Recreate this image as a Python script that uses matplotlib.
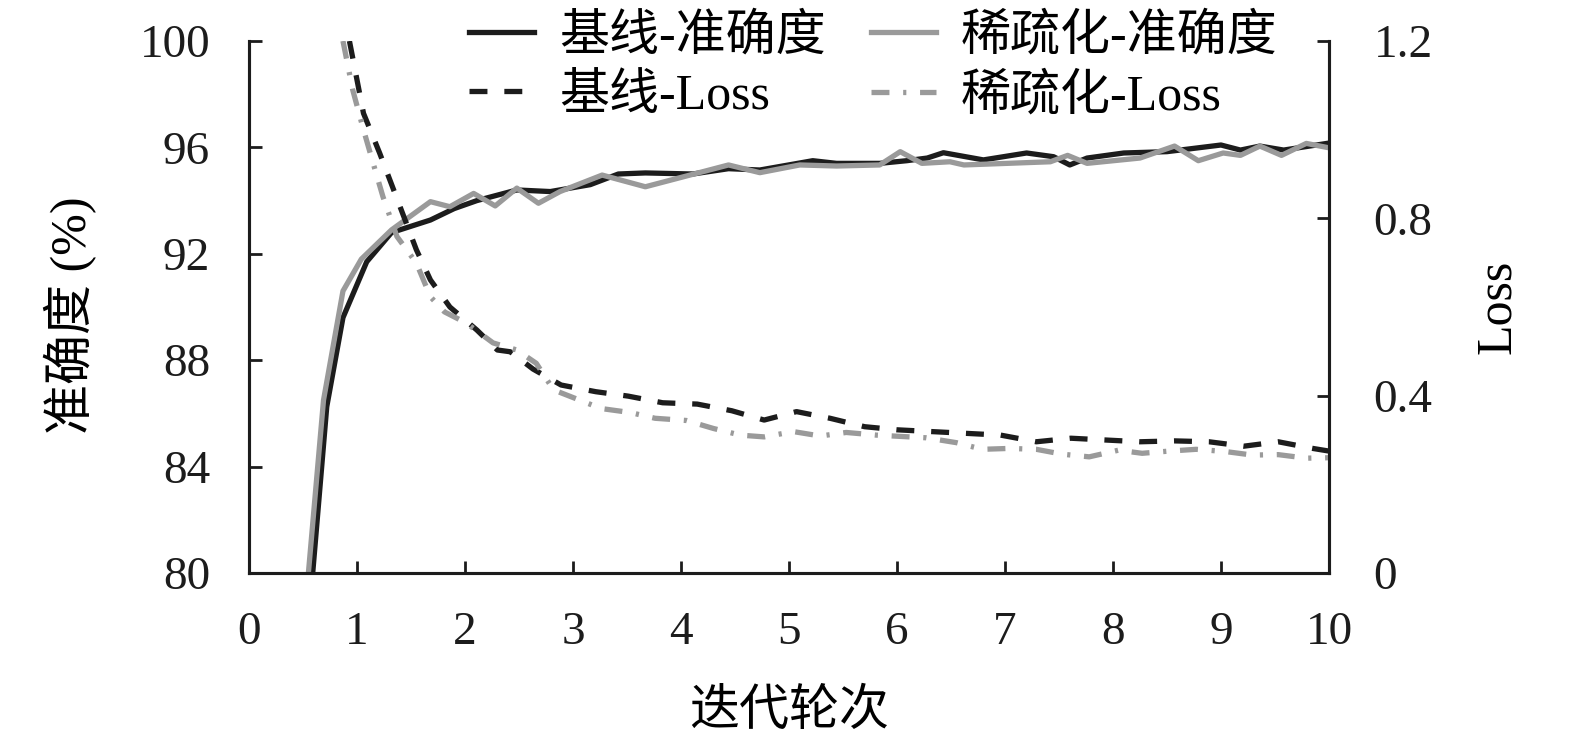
import numpy as np
import matplotlib
matplotlib.use("Agg")
import matplotlib.pyplot as plt

plt.rcParams['font.family'] = ['Liberation Serif', 'Noto Sans CJK SC']
plt.rcParams['axes.unicode_minus'] = False

# 基线-准确度
base_acc_x = [0.59, 0.72, 0.87, 1.09, 1.32, 1.68, 1.90, 2.11, 2.48, 2.79, 3.16, 3.42, 3.67, 4.11,
              4.44, 4.73, 5.22, 5.44, 5.84, 6.09, 6.28, 6.43, 6.80, 7.20, 7.45, 7.60, 7.76, 8.10,
              8.50, 9.00, 9.18, 9.36, 9.58, 9.98]
base_acc = [80.0, 86.25, 89.6, 91.7, 92.8, 93.27, 93.7, 94.0, 94.4, 94.34, 94.6, 95.0, 95.04, 95.0,
            95.2, 95.15, 95.5, 95.4, 95.4, 95.5, 95.6, 95.8, 95.53, 95.79, 95.65, 95.34, 95.6, 95.79,
            95.84, 96.09, 95.9, 96.05, 95.9, 96.15]

# 稀疏化-准确度
sp_acc_x = [0.55, 0.69, 0.87, 1.04, 1.32, 1.68, 1.86, 2.08, 2.28, 2.48, 2.68, 2.88, 3.27, 3.67,
            4.44, 4.73, 5.10, 5.44, 5.84, 6.03, 6.23, 6.49, 6.62, 7.02, 7.42, 7.58, 7.76, 8.25,
            8.57, 8.79, 9.02, 9.18, 9.36, 9.56, 9.79, 9.98]
sp_acc = [80.0, 86.5, 90.6, 91.8, 92.9, 93.96, 93.77, 94.27, 93.8, 94.47, 93.9, 94.34, 94.96, 94.52,
          95.34, 95.05, 95.34, 95.3, 95.34, 95.84, 95.4, 95.46, 95.34, 95.4, 95.46, 95.7, 95.4, 95.6,
          96.05, 95.5, 95.79, 95.7, 96.05, 95.7, 96.15, 96.0]

# 基线-Loss
base_loss_x = [0.93, 1.06, 1.21, 1.41, 1.55, 1.68, 1.86, 2.11, 2.30, 2.42, 2.63, 2.89, 3.21, 3.51,
               3.83, 4.15, 4.47, 4.77, 5.07, 5.38, 5.70, 6.00, 6.32, 6.64, 6.96, 7.29, 7.61, 7.93,
               8.25, 8.57, 8.89, 9.21, 9.53, 9.85, 10.0]
base_loss = [1.2, 1.037, 0.947, 0.819, 0.729, 0.661, 0.60, 0.548, 0.503, 0.499, 0.46, 0.424, 0.409, 0.399,
             0.384, 0.381, 0.366, 0.345, 0.364, 0.349, 0.330, 0.323, 0.319, 0.315, 0.311, 0.296, 0.304, 0.300,
             0.296, 0.298, 0.296, 0.286, 0.296, 0.281, 0.275]

# 稀疏化-Loss
sp_loss_x = [0.87, 0.96, 1.06, 1.15, 1.24, 1.37, 1.55, 1.68, 1.81, 2.01, 2.26, 2.48, 2.66, 2.82,
             3.26, 3.53, 3.76, 4.05, 4.30, 4.55, 4.77, 5.04, 5.29, 5.53, 5.81, 6.27, 6.55, 6.79,
             7.04, 7.29, 7.53, 7.78, 8.05, 8.27, 8.52, 8.77, 9.04, 9.29, 9.53, 9.79, 10.0]
sp_loss = [1.2, 1.09, 1.0, 0.924, 0.849, 0.759, 0.699, 0.623, 0.589, 0.564, 0.519, 0.503, 0.473, 0.413,
           0.371, 0.362, 0.349, 0.344, 0.326, 0.311, 0.307, 0.319, 0.309, 0.317, 0.311, 0.305, 0.294, 0.279,
           0.281, 0.279, 0.268, 0.262, 0.277, 0.270, 0.275, 0.279, 0.274, 0.266, 0.267, 0.259, 0.26]

x_ticks = list(range(0, 11))
acc_ticks = [80, 84, 88, 92, 96, 100]
loss_ticks = [0, 0.4, 0.8, 1.2]
loss_tick_labels = ["0", "0.4", "0.8", "1.2"]

black = "#1c1c1c"
gray = "#9a9a9a"

fig = plt.figure(figsize=(15.75, 7.41), dpi=100)
ax = fig.add_axes([249/1575, 1-573/741, 1080/1575, 532/741])
ax2 = ax.twinx()

l1, = ax.plot(base_acc_x, base_acc, color=black, lw=3.8, label="基线-准确度")
l3, = ax.plot(sp_acc_x, sp_acc, color=gray, lw=3.8, label="稀疏化-准确度")
l2, = ax2.plot(base_loss_x, base_loss, color=black, lw=3.8, dashes=(3.4, 3.2), label="基线-Loss")
l4, = ax2.plot(sp_loss_x, sp_loss, color=gray, lw=3.8, dashes=(3.4, 2.6, 0.6, 2.6), label="稀疏化-Loss")

ax.set_xlim(0, 10)
ax.set_ylim(80, 100)
ax2.set_ylim(0, 1.2)
ax.set_xticks(x_ticks)
ax.set_yticks(acc_ticks)
ax2.set_yticks(loss_ticks)
ax2.set_yticklabels(loss_tick_labels)

for a in (ax, ax2):
    a.spines['top'].set_visible(False)
    for s in ('left', 'right', 'bottom'):
        a.spines[s].set_linewidth(2.2)
        a.spines[s].set_color(black)
    a.tick_params(direction='in', length=9, width=2, labelsize=34, pad=28, colors=black)
ax2.tick_params(axis='y', pad=32)

ax.set_xlabel("迭代轮次", fontsize=36, va='center')
ax.xaxis.set_label_coords(0.5, -0.262)
ax.set_ylabel("准确度 (%)", fontsize=36, va='center')
ax.yaxis.set_label_coords(-0.165, 0.485)
ax2.set_ylabel("Loss", fontsize=36, va='center')
ax2.yaxis.set_label_coords(1.156, 0.5)

ax2.legend([l1, l2, l3, l4], [l1.get_label(), l2.get_label(), l3.get_label(), l4.get_label()],
           ncol=2, frameon=False, fontsize=36, loc='upper center',
           bbox_to_anchor=(0.578, 1.088), handlelength=1.3, handletextpad=0.5,
           columnspacing=0.9, labelspacing=0.25, borderaxespad=0)

fig.savefig("out.png", dpi=100)
